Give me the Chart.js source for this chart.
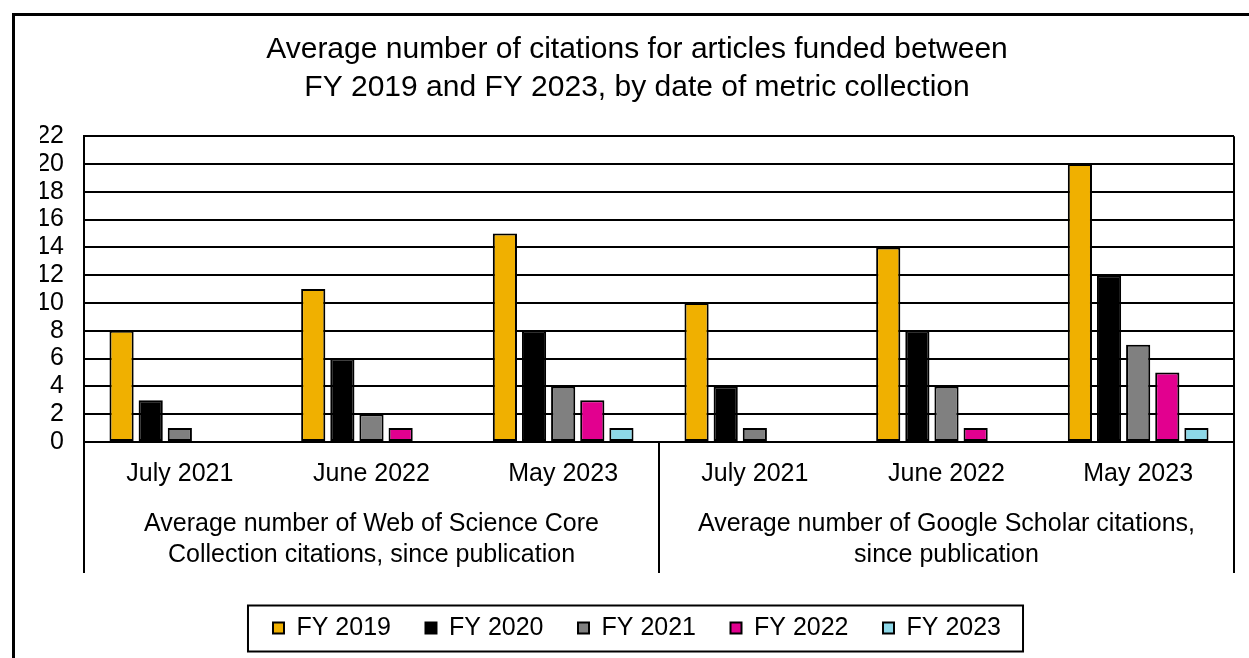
<!DOCTYPE html>
<html>
<head>
<meta charset="utf-8">
<script src="https://cdn.jsdelivr.net/npm/chart.js@4"></script>
<style>
html,body{margin:0;padding:0;background:#fff;}
#wrap{position:relative;width:1249px;height:658px;}
</style>
</head>
<body>
<div id="wrap"><canvas id="c" width="1249" height="658"></canvas></div>
<script>
const titleLines = ["Average number of citations for articles funded between", "FY 2019 and FY 2023, by date of metric collection"];
const categories = ["July 2021", "June 2022", "May 2023", "July 2021", "June 2022", "May 2023"];
const groupLabels = [
  ["Average number of Web of Science Core", "Collection citations, since publication"],
  ["Average number of Google Scholar citations,", "since publication"]
];
const groupSizes = [3, 3];
const seriesNames = ["FY 2019", "FY 2020", "FY 2021", "FY 2022", "FY 2023"];
const fy2019 = [8, 11, 15, 10, 14, 20];
const fy2020 = [3, 6, 8, 4, 8, 12];
const fy2021 = [1, 2, 4, 1, 4, 7];
const fy2022 = [0, 1, 3, 0, 1, 5];
const fy2023 = [0, 0, 1, 0, 0, 1];
const seriesColors = ["#F0B000", "#000000", "#808080", "#E2008F", "#8DD8E8"];
const yMin = 0, yMax = 22, yStep = 2;

const FONT = "'Liberation Sans', Arial, sans-serif";
const seriesValues = [fy2019, fy2020, fy2021, fy2022, fy2023];
const AXIS_BAND = 131;

const framePlugin = {
  id: 'frame',
  beforeDraw(chart) {
    const ctx = chart.ctx;
    ctx.save();
    ctx.fillStyle = '#fff';
    ctx.fillRect(0, 0, chart.width, chart.height);
    ctx.strokeStyle = '#000';
    ctx.lineWidth = 3;
    ctx.strokeRect(13.5, 14.5, chart.width + 20, chart.height + 20);
    ctx.restore();
  },
  afterDraw(chart) {
    const ctx = chart.ctx;
    const area = chart.chartArea;
    const xs = chart.scales.x;
    const bottom = area.bottom + AXIS_BAND;
    ctx.save();
    ctx.strokeStyle = '#000';
    ctx.lineWidth = 2;
    ctx.beginPath();
    ctx.moveTo(area.right, area.top);
    ctx.lineTo(area.right, bottom);
    ctx.stroke();
    const half = (xs.getPixelForValue(1) - xs.getPixelForValue(0)) / 2;
    let idx = 0;
    const edges = [xs.getPixelForValue(0) - half];
    groupSizes.forEach(n => { idx += n; edges.push(xs.getPixelForValue(idx - 1) + half); });
    edges.forEach(x => {
      ctx.beginPath();
      ctx.moveTo(x, area.bottom);
      ctx.lineTo(x, bottom);
      ctx.stroke();
    });
    ctx.fillStyle = '#000';
    ctx.font = "25px " + FONT;
    ctx.textAlign = 'center';
    ctx.textBaseline = 'middle';
    for (let g = 0; g < groupLabels.length; g++) {
      const cx = (edges[g] + edges[g + 1]) / 2;
      groupLabels[g].forEach((line, i) => {
        ctx.fillText(line, cx, area.bottom + 82 + i * 31);
      });
    }
    const lg = chart.legend;
    if (lg && lg.legendHitBoxes && lg.legendHitBoxes.length) {
      const hb = lg.legendHitBoxes;
      const l = hb[0].left - 25;
      const last = hb[hb.length - 1];
      const r = last.left + last.width + 22;
      const t = hb[0].top - 10;
      const b = hb[0].top + hb[0].height + 11;
      ctx.lineWidth = 2;
      ctx.strokeRect(l, t, r - l, b - t);
    }
    ctx.restore();
  }
};

const datasets = seriesNames.map((name, i) => ({
  label: name,
  data: seriesValues[i],
  backgroundColor: seriesColors[i],
  borderColor: '#000',
  borderWidth: 2,
  borderSkipped: false,
  categoryPercentage: 0.76,
  barPercentage: 0.83
}));

new Chart(document.getElementById('c'), {
  type: 'bar',
  data: { labels: categories, datasets },
  plugins: [framePlugin],
  options: {
    responsive: false,
    animation: false,
    layout: { padding: { left: 40, right: 15, top: 0, bottom: 7.5 } },
    plugins: {
      title: {
        display: true,
        text: titleLines,
        color: '#000',
        font: { family: FONT, size: 30, weight: 'normal', lineHeight: 1.27 },
        padding: { top: 31, bottom: 29 }
      },
      legend: {
        display: true,
        position: 'bottom',
        labels: {
          color: '#000',
          font: { family: FONT, size: 25 },
          boxWidth: 11,
          boxHeight: 11,
          padding: 34.5
        }
      },
      tooltip: { enabled: false }
    },
    scales: {
      x: {
        grid: { display: false, drawTicks: false },
        border: { display: true, color: '#000', width: 2 },
        ticks: { color: '#000', font: { family: FONT, size: 25 }, padding: 17, maxRotation: 0, autoSkip: false },
        afterFit(scale) { scale.height = 139; }
      },
      y: {
        min: yMin, max: yMax,
        ticks: { stepSize: yStep, autoSkip: false, color: '#000', font: { family: FONT, size: 25, lineHeight: 1 }, padding: 20 },
        grid: { color: '#000', lineWidth: 2, drawTicks: false },
        border: { display: true, color: '#000', width: 2 },
        afterFit(scale) { scale.width = 44; }
      }
    }
  }
});
</script>
</body>
</html>
